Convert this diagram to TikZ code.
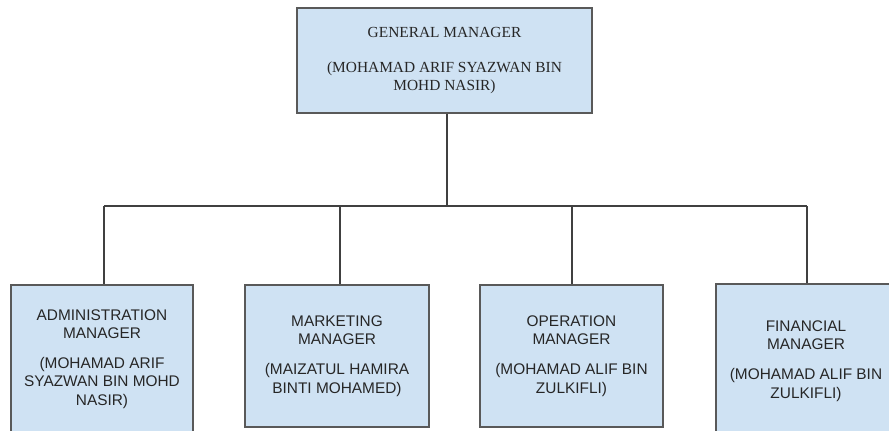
\documentclass[tikz,border=0pt]{standalone}
\usepackage{fontspec}
\setmainfont{Liberation Serif}
\setsansfont{Liberation Sans}
\usetikzlibrary{calc}
\definecolor{boxfill}{HTML}{CFE2F3}
\definecolor{boxline}{HTML}{595959}
\definecolor{connclr}{HTML}{404040}
\definecolor{txt}{HTML}{262626}
\begin{document}
\begin{tikzpicture}[x=1pt,y=-1pt,
  box/.style={draw=boxline, line width=1.4pt, fill=boxfill, inner sep=0pt, align=center, text=txt},
  topbox/.style={box, font=\fontsize{15.4}{17.5}\selectfont},
  subbox/.style={box, font=\sffamily\fontsize{15.4}{18.3}\selectfont},
  conn/.style={draw=connclr, line width=1.2pt}]
\useasboundingbox (0,0) rectangle (889,431);
\clip (0,0) rectangle (889,431);
\fill[white] (0,0) rectangle (889,431);

\node[topbox, minimum width=295pt, minimum height=105pt] (gm) at (444.5,60.5)
  {GENERAL MANAGER\\[17.5pt](MOHAMAD ARIF SYAZWAN BIN\\MOHD NASIR)};

\node[subbox, minimum width=182pt, minimum height=148pt] (adm) at (102,359)
  {ADMINISTRATION\\MANAGER\\[11.7pt](MOHAMAD ARIF\\SYAZWAN BIN MOHD\\NASIR)};
\node[subbox, minimum width=184pt, minimum height=142pt] (mkt) at (337,356)
  {MARKETING\\MANAGER\\[11.7pt](MAIZATUL HAMIRA\\BINTI MOHAMED)};
\node[subbox, minimum width=183pt, minimum height=142pt] (opr) at (571.5,356)
  {OPERATION\\MANAGER\\[11.7pt](MOHAMAD ALIF BIN\\ZULKIFLI)};
\node[subbox, minimum width=180pt, minimum height=154pt] (fin) at (806,361)
  {FINANCIAL\\MANAGER\\[11.7pt](MOHAMAD ALIF BIN\\ZULKIFLI)};

\coordinate (bus) at (447,206);
\coordinate (gmdrop) at ($(gm.south)+(2.5,0)$);
\coordinate (admtop) at ($(adm.north)+(2,0)$);
\coordinate (mkttop) at ($(mkt.north)+(3,0)$);
\coordinate (oprtop) at ($(opr.north)+(0.5,0)$);
\coordinate (fintop) at ($(fin.north)+(1,0)$);

\draw[conn] (gmdrop) -- (gmdrop |- bus);
\draw[conn] (admtop |- bus) -- (fintop |- bus);
\draw[conn] (admtop |- bus) -- (admtop);
\draw[conn] (mkttop |- bus) -- (mkttop);
\draw[conn] (oprtop |- bus) -- (oprtop);
\draw[conn] (fintop |- bus) -- (fintop);
\end{tikzpicture}
\end{document}
